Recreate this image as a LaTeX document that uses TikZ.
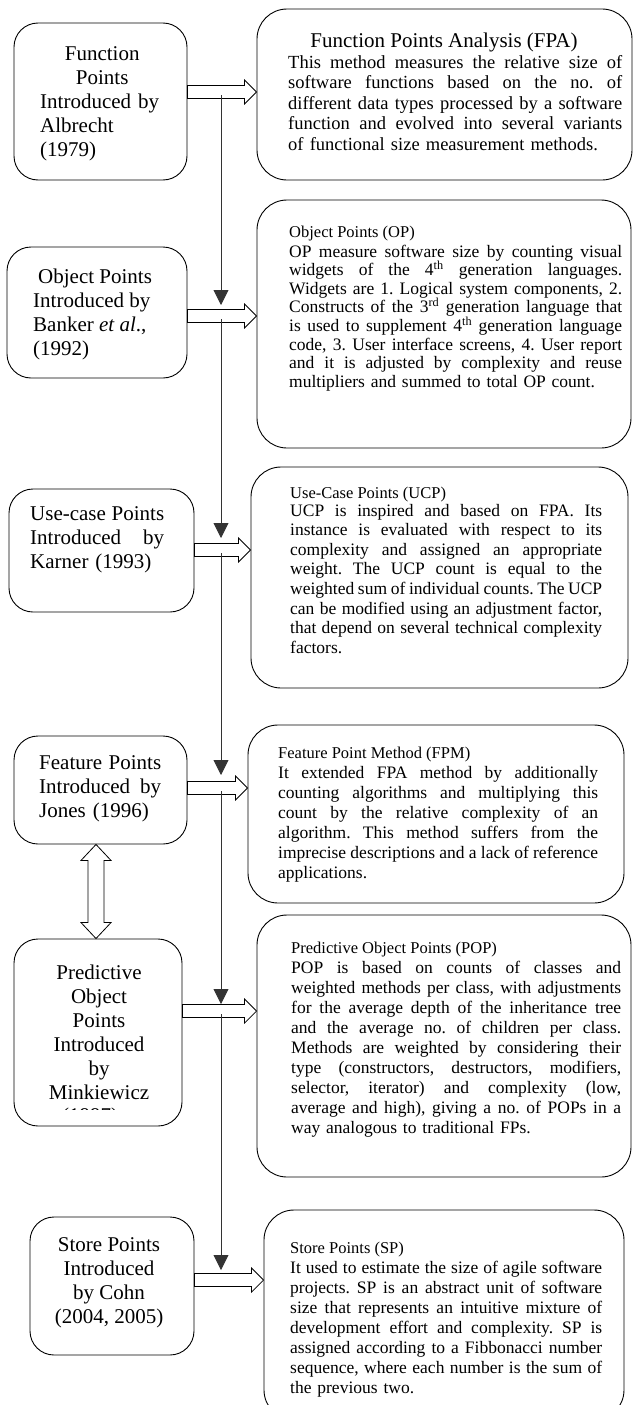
\documentclass[tikz,border=0pt]{standalone}
\usepackage{fontspec}
\setmainfont{Liberation Serif}
\usetikzlibrary{arrows.meta,calc}
\frenchspacing
\newcommand\JL[1]{{\spaceskip=0.25em plus 1fil minus 0.1em\xspaceskip=\spaceskip\hbox to\hsize{#1}}\par}
\newcommand\HArrow[3]{%
  \draw[harrow] ($(#1.east|-#3)+(0,-6.5)$) -- ($(#2.west|-#3)+(-12,-6.5)$) -- ($(#2.west|-#3)+(-12,-12)$) -- (#2.west|-#3) -- ($(#2.west|-#3)+(-12,12)$) -- ($(#2.west|-#3)+(-12,6.5)$) -- ($(#1.east|-#3)+(0,6.5)$) -- cycle;}
\tikzset{
  lbox/.style={draw, line width=0.9pt, rounded corners=24pt, inner sep=0pt},
  rbox/.style={draw, line width=0.9pt, rounded corners=30pt, inner sep=0pt},
  ltext/.style={inner sep=0pt, font=\fontsize{21}{24}\selectfont, align=center},
  rtitle/.style={inner sep=0pt, anchor=base west, font=\fontsize{16.5}{19}\selectfont},
  rbody/.style={inner sep=0pt, anchor=base west, align=left, font=\fontsize{17.5}{20}\selectfont},
  harrow/.style={draw, line width=0.8pt, fill=white, line join=miter},
  vline/.style={draw=black!80, line width=0.9pt, -{Triangle[length=15pt,width=15pt]}},
}
\begin{document}
\begin{tikzpicture}[x=1pt,y=-1pt]
\useasboundingbox (0,0) rectangle (633,1405);
\clip (0,0) rectangle (633,1405);
% left boxes
\node[lbox, minimum width=173pt, minimum height=157pt] (L1) at (100.5,101.5) {};
\node[lbox, minimum width=180pt, minimum height=131pt] (L2) at (97,312.5) {};
\node[lbox, minimum width=185pt, minimum height=123pt] (L3) at (101.5,550.5) {};
\node[lbox, minimum width=173pt, minimum height=108pt] (L4) at (100.5,790) {};
\node[lbox, minimum width=168pt, minimum height=187pt] (L5) at (98,1032.5) {};
\node[lbox, minimum width=164pt, minimum height=138pt] (L6) at (112,1286) {};
% right boxes
\node[rbox, minimum width=375pt, minimum height=171pt] (R1) at (444.5,94.5) {};
\node[rbox, minimum width=374pt, minimum height=248pt] (R2) at (444,324) {};
\node[rbox, minimum width=377pt, minimum height=221pt] (R3) at (439.5,577.5) {};
\node[rbox, minimum width=376pt, minimum height=178pt] (R4) at (436,814) {};
\node[rbox, minimum width=374pt, minimum height=262pt] (R5) at (444,1046) {};
\node[rbox, minimum width=360pt, minimum height=210pt] (R6) at (444,1315) {};
% left texts
\node[ltext, align=left, text width=124pt, anchor=west] (T1) at (40,104)
  {\makebox[\linewidth]{Function}\\\makebox[\linewidth]{Points}\\Introduced by\\Albrecht\\(1979)};
\node[ltext, align=left, anchor=west] (T2) at (33,314)
  {\hspace*{5pt}Object Points\\Introduced by\\Banker \textit{et al}.,\\(1992)};
\node[ltext, align=left, text width=134pt, anchor=west] (T3) at (30,539.5)
  {\JL{Use-case Points}\JL{Introduced by}Karner (1993)};
\node[ltext, align=left, text width=122pt, anchor=west] (T4) at (39,789)
  {\JL{Feature Points}\JL{Introduced by}Jones (1996)};
\node[ltext] (T5) at (99,1032) {Predictive\\Object\\Points\\Introduced\\by\\Minkiewicz};
\begin{scope}
\clip (20,1100) rectangle (180,1109);
\node[ltext] (T5b) at (90,1117) {(1997)};
\end{scope}
\node[ltext] (T6) at (109,1283) {Store Points\\Introduced\\by Cohn\\(2004, 2005)};
% right texts
\node[inner sep=0pt, anchor=base, font=\fontsize{21}{24}\selectfont] (H1) at (444,48) {Function Points Analysis (FPA)};
\node[rbody, text width=334pt, font=\fontsize{18.5}{20.5}\selectfont] (B1) at (288,68)
  {\JL{This method measures the relative size of}\JL{software functions based on the no. of}\JL{different data types processed by a software}\JL{function and evolved into several variants}of functional size measurement methods.};
\node[rtitle] (H2) at (289,237) {Object Points (OP)};
\node[rbody, text width=333pt, font=\fontsize{17.5}{18.6}\selectfont] (B2) at (289,257)
  {\JL{OP measure software size by counting visual}\JL{widgets of the 4\textsuperscript{th} generation languages.}\JL{Widgets are 1. Logical system components, 2.}\JL{Constructs of the 3\textsuperscript{rd} generation language that}\JL{is used to supplement 4\textsuperscript{th} generation language}\JL{code, 3. User interface screens, 4. User report}\JL{and it is adjusted by complexity and reuse}multipliers and summed to total OP count.};
\node[rtitle] (H3) at (290,498) {Use-Case Points (UCP)};
\node[rbody, text width=312pt, font=\fontsize{17.5}{19.6}\selectfont] (B3) at (290,516)
  {\JL{UCP is inspired and based on FPA. Its}\JL{instance is evaluated with respect to its}\JL{complexity and assigned an appropriate}\JL{weight. The UCP count is equal to the}\JL{weighted sum of individual counts. The UCP}\JL{can be modified using an adjustment factor,}\JL{that depend on several technical complexity}factors.};
\node[rtitle] (H4) at (278,758) {Feature Point Method (FPM)};
\node[rbody, text width=320pt] (B4) at (278,778)
  {\JL{It extended FPA method by additionally}\JL{counting algorithms and multiplying this}\JL{count by the relative complexity of an}\JL{algorithm. This method suffers from the}\JL{imprecise descriptions and a lack of reference}applications.};
\node[rtitle] (H5) at (291,953) {Predictive Object Points (POP)};
\node[rbody, text width=330pt] (B5) at (291,973)
  {\JL{POP is based on counts of classes and}\JL{weighted methods per class, with adjustments}\JL{for the average depth of the inheritance tree}\JL{and the average no. of children per class.}\JL{Methods are weighted by considering their}\JL{type (constructors, destructors, modifiers,}\JL{selector, iterator) and complexity (low,}\JL{average and high), giving a no. of POPs in a}way analogous to traditional FPs.};
\node[rtitle] (H6) at (290,1253) {Store Points (SP)};
\node[rbody, text width=312pt] (B6) at (290,1273)
  {\JL{It used to estimate the size of agile software}\JL{projects. SP is an abstract unit of software}\JL{size that represents an intuitive mixture of}\JL{development effort and complexity. SP is}\JL{assigned according to a Fibbonacci number}\JL{sequence, where each number is the sum of}the previous two.};
% arrow levels
\coordinate (a1) at (221,92);
\coordinate (a2) at (221,316);
\coordinate (a3) at (221,550);
\coordinate (a4) at (221,788);
\coordinate (a5) at (221,1011);
\coordinate (a6) at (221,1280);
\coordinate (t2) at (221,305);
\coordinate (t3) at (221,538);
\coordinate (t4) at (221,775);
\coordinate (t5) at (221,1004);
\coordinate (t6) at (221,1270);
% hollow arrows
\HArrow{L1}{R1}{a1}
\HArrow{L2}{R2}{a2}
\HArrow{L3}{R3}{a3}
\HArrow{L4}{R4}{a4}
\HArrow{L5}{R5}{a5}
\HArrow{L6}{R6}{a6}
% double arrow
\coordinate (d) at (96,0);
\draw[harrow] (d|-L4.south) -- ++(15,16) -- ++(-7,0) -- ($(d|-L5.north)+(8,-16)$) -- ++(7,0) -- (d|-L5.north) -- ++(-15,-16) -- ++(7,0) -- ($(d|-L4.south)+(-8,16)$) -- ++(-7,0) -- cycle;
% vertical connectors
\draw[vline] ($(a1)+(0,3)$) -- (t2);
\draw[vline] ($(a2)+(0,3)$) -- (t3);
\draw[vline] ($(a3)+(0,3)$) -- (t4);
\draw[vline] ($(a4)+(0,3)$) -- (t5);
\draw[vline] ($(a5)+(0,3)$) -- (t6);
\end{tikzpicture}
\end{document}
